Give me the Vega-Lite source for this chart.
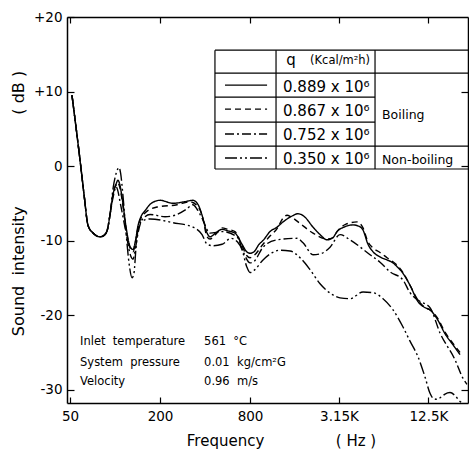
{
  "$schema": "https://vega.github.io/schema/vega-lite/v6.json",
  "width": 401,
  "height": 386,
  "autosize": {"type": "none"},
  "padding": {"left": 67, "top": 17, "right": 1, "bottom": 53},
  "background": "white",
  "config": {
    "view": {"stroke": null},
    "font": "DejaVu Sans",
    "axis": {"grid": false, "domainColor": "black", "tickColor": "black", "labelColor": "black", "titleColor": "black", "domainWidth": 1.5, "tickWidth": 1.2, "labelFont": "DejaVu Sans", "titleFont": "DejaVu Sans", "titleFontWeight": "normal"}
  },
  "datasets": {
    "curves": [
      {"s": "0.889", "f": 51.5, "db": 9.5}, {"s": "0.889", "f": 58.3, "db": 0.8}, {"s": "0.889", "f": 62, "db": -3.8}, {"s": "0.889", "f": 66, "db": -8.0}, {"s": "0.889", "f": 71.3, "db": -9.0}, {"s": "0.889", "f": 79.4, "db": -9.5}, {"s": "0.889", "f": 84.4, "db": -9.3}, {"s": "0.889", "f": 88.4, "db": -8.7}, {"s": "0.889", "f": 92.6, "db": -6.5},
      {"s": "0.889", "f": 97, "db": -3.8}, {"s": "0.889", "f": 102, "db": -2.3}, {"s": "0.889", "f": 104.7, "db": -1.9}, {"s": "0.889", "f": 107, "db": -2.3}, {"s": "0.889", "f": 111.4, "db": -4.2}, {"s": "0.889", "f": 118.5, "db": -8.2}, {"s": "0.889", "f": 126, "db": -10.8}, {"s": "0.889", "f": 132, "db": -11.2}, {"s": "0.889", "f": 137, "db": -10}, {"s": "0.889", "f": 142.5, "db": -8}, {"s": "0.889", "f": 149, "db": -6.8}, {"s": "0.889", "f": 158.7, "db": -6.0}, {"s": "0.889", "f": 175, "db": -5.0}, {"s": "0.889", "f": 200, "db": -4.6}, {"s": "0.889", "f": 244, "db": -5.0}, {"s": "0.889", "f": 290, "db": -4.8}, {"s": "0.889", "f": 332, "db": -4.6}, {"s": "0.889", "f": 360, "db": -5.2}, {"s": "0.889", "f": 382, "db": -6.6}, {"s": "0.889", "f": 413, "db": -9.0}, {"s": "0.889", "f": 432, "db": -9.5}, {"s": "0.889", "f": 470, "db": -9.0}, {"s": "0.889", "f": 520, "db": -8.5}, {"s": "0.889", "f": 570, "db": -8.7}, {"s": "0.889", "f": 635, "db": -9.0}, {"s": "0.889", "f": 707, "db": -10.5}, {"s": "0.889", "f": 760, "db": -11.5}, {"s": "0.889", "f": 800, "db": -11.7}, {"s": "0.889", "f": 851, "db": -11.5}, {"s": "0.889", "f": 920, "db": -10.5}, {"s": "0.889", "f": 977, "db": -10.0}, {"s": "0.889", "f": 1088, "db": -8.8}, {"s": "0.889", "f": 1213, "db": -8.2}, {"s": "0.889", "f": 1330, "db": -7.5}, {"s": "0.889", "f": 1500, "db": -6.8}, {"s": "0.889", "f": 1676, "db": -6.4}, {"s": "0.889", "f": 1850, "db": -6.8}, {"s": "0.889", "f": 2111, "db": -8.2}, {"s": "0.889", "f": 2352, "db": -9.2}, {"s": "0.889", "f": 2620, "db": -9.9}, {"s": "0.889", "f": 2872, "db": -9.6}, {"s": "0.889", "f": 3056, "db": -8.8}, {"s": "0.889", "f": 3400, "db": -8.2}, {"s": "0.889", "f": 3910, "db": -7.9}, {"s": "0.889", "f": 4300, "db": -8.1}, {"s": "0.889", "f": 4560, "db": -8.6}, {"s": "0.889", "f": 4925, "db": -10.5}, {"s": "0.889", "f": 5320, "db": -11.5}, {"s": "0.889", "f": 5926, "db": -12.2}, {"s": "0.889", "f": 6600, "db": -12.6}, {"s": "0.889", "f": 7241, "db": -13.0}, {"s": "0.889", "f": 7700, "db": -13.5}, {"s": "0.889", "f": 8445, "db": -14.4}, {"s": "0.889", "f": 9406, "db": -16.0}, {"s": "0.889", "f": 10640, "db": -18.2}, {"s": "0.889", "f": 11850, "db": -19.0}, {"s": "0.889", "f": 12800, "db": -19.3}, {"s": "0.889", "f": 14270, "db": -20.5}, {"s": "0.889", "f": 16127, "db": -22.5}, {"s": "0.889", "f": 18240, "db": -24.0}, {"s": "0.889", "f": 20320, "db": -25.3},

      {"s": "0.867", "f": 51.5, "db": 9.5}, {"s": "0.867", "f": 58.3, "db": 0.8}, {"s": "0.867", "f": 62, "db": -3.8}, {"s": "0.867", "f": 66, "db": -8.0}, {"s": "0.867", "f": 71.3, "db": -9.0}, {"s": "0.867", "f": 79.4, "db": -9.5}, {"s": "0.867", "f": 84.4, "db": -9.3}, {"s": "0.867", "f": 88.4, "db": -8.7}, {"s": "0.867", "f": 92.6, "db": -6.5},
      {"s": "0.867", "f": 97, "db": -3.6}, {"s": "0.867", "f": 102, "db": -2.5}, {"s": "0.867", "f": 104, "db": -2.2}, {"s": "0.867", "f": 107, "db": -2.7}, {"s": "0.867", "f": 111.4, "db": -4.5}, {"s": "0.867", "f": 118.5, "db": -8.5}, {"s": "0.867", "f": 126, "db": -11}, {"s": "0.867", "f": 132, "db": -11.5}, {"s": "0.867", "f": 137, "db": -10.2}, {"s": "0.867", "f": 142.5, "db": -8.2}, {"s": "0.867", "f": 149, "db": -7.0}, {"s": "0.867", "f": 158.7, "db": -6.3}, {"s": "0.867", "f": 191, "db": -5.5}, {"s": "0.867", "f": 260, "db": -5.2}, {"s": "0.867", "f": 317, "db": -4.8}, {"s": "0.867", "f": 354, "db": -5.3}, {"s": "0.867", "f": 382, "db": -6.6}, {"s": "0.867", "f": 413, "db": -9.5}, {"s": "0.867", "f": 432, "db": -9.8}, {"s": "0.867", "f": 470, "db": -9.2}, {"s": "0.867", "f": 520, "db": -8.3}, {"s": "0.867", "f": 570, "db": -8.5}, {"s": "0.867", "f": 635, "db": -8.8}, {"s": "0.867", "f": 707, "db": -10.7}, {"s": "0.867", "f": 760, "db": -12.0}, {"s": "0.867", "f": 800, "db": -12.3}, {"s": "0.867", "f": 851, "db": -12.0}, {"s": "0.867", "f": 977, "db": -10.5}, {"s": "0.867", "f": 1088, "db": -9.4}, {"s": "0.867", "f": 1213, "db": -8.4}, {"s": "0.867", "f": 1330, "db": -7.0}, {"s": "0.867", "f": 1414, "db": -6.6}, {"s": "0.867", "f": 1500, "db": -6.8}, {"s": "0.867", "f": 1676, "db": -7.5}, {"s": "0.867", "f": 2111, "db": -9.0}, {"s": "0.867", "f": 2620, "db": -9.8}, {"s": "0.867", "f": 2872, "db": -9.6}, {"s": "0.867", "f": 3056, "db": -8.8}, {"s": "0.867", "f": 3509, "db": -7.8}, {"s": "0.867", "f": 4159, "db": -7.5}, {"s": "0.867", "f": 4560, "db": -8.3}, {"s": "0.867", "f": 4925, "db": -10.2}, {"s": "0.867", "f": 5320, "db": -11.0}, {"s": "0.867", "f": 5926, "db": -11.6}, {"s": "0.867", "f": 6600, "db": -12.3}, {"s": "0.867", "f": 7700, "db": -13.3}, {"s": "0.867", "f": 8445, "db": -14.3}, {"s": "0.867", "f": 9406, "db": -16.0}, {"s": "0.867", "f": 10640, "db": -18.0}, {"s": "0.867", "f": 11850, "db": -19.0}, {"s": "0.867", "f": 12800, "db": -19.3}, {"s": "0.867", "f": 14270, "db": -20.3}, {"s": "0.867", "f": 16127, "db": -22.3}, {"s": "0.867", "f": 18240, "db": -23.8}, {"s": "0.867", "f": 20320, "db": -25.0},

      {"s": "0.752", "f": 51.5, "db": 9.5}, {"s": "0.752", "f": 58.3, "db": 0.8}, {"s": "0.752", "f": 62, "db": -3.8}, {"s": "0.752", "f": 66, "db": -8.0}, {"s": "0.752", "f": 71.3, "db": -9.0}, {"s": "0.752", "f": 79.4, "db": -9.5}, {"s": "0.752", "f": 84.4, "db": -9.3}, {"s": "0.752", "f": 88.4, "db": -8.7}, {"s": "0.752", "f": 92.6, "db": -6.5},
      {"s": "0.752", "f": 97, "db": -4.2}, {"s": "0.752", "f": 101.6, "db": -2.8}, {"s": "0.752", "f": 104, "db": -3.2}, {"s": "0.752", "f": 108, "db": -4.8}, {"s": "0.752", "f": 118.5, "db": -9}, {"s": "0.752", "f": 126, "db": -11.8}, {"s": "0.752", "f": 132, "db": -12.5}, {"s": "0.752", "f": 137, "db": -11}, {"s": "0.752", "f": 142.5, "db": -9}, {"s": "0.752", "f": 149, "db": -7.5}, {"s": "0.752", "f": 158.7, "db": -6.8}, {"s": "0.752", "f": 171.5, "db": -6.5}, {"s": "0.752", "f": 216, "db": -6.8}, {"s": "0.752", "f": 252, "db": -6.6}, {"s": "0.752", "f": 300, "db": -5.8}, {"s": "0.752", "f": 332, "db": -5.2}, {"s": "0.752", "f": 354, "db": -5.8}, {"s": "0.752", "f": 382, "db": -7.0}, {"s": "0.752", "f": 432, "db": -9.0}, {"s": "0.752", "f": 520, "db": -8.8}, {"s": "0.752", "f": 655, "db": -9.5}, {"s": "0.752", "f": 720, "db": -11.5}, {"s": "0.752", "f": 800, "db": -13.0}, {"s": "0.752", "f": 851, "db": -12.8}, {"s": "0.752", "f": 977, "db": -10.9}, {"s": "0.752", "f": 1213, "db": -9.9}, {"s": "0.752", "f": 1650, "db": -9.7}, {"s": "0.752", "f": 1810, "db": -10.3}, {"s": "0.752", "f": 2111, "db": -11.9}, {"s": "0.752", "f": 2352, "db": -11.8}, {"s": "0.752", "f": 2744, "db": -10.9}, {"s": "0.752", "f": 3200, "db": -9.2}, {"s": "0.752", "f": 3732, "db": -9.9}, {"s": "0.752", "f": 5080, "db": -11.9}, {"s": "0.752", "f": 5926, "db": -12.9}, {"s": "0.752", "f": 6913, "db": -14.2}, {"s": "0.752", "f": 8445, "db": -15.3}, {"s": "0.752", "f": 9406, "db": -17.0}, {"s": "0.752", "f": 10640, "db": -18.0}, {"s": "0.752", "f": 12800, "db": -19.0}, {"s": "0.752", "f": 14930, "db": -22.4}, {"s": "0.752", "f": 18815, "db": -26.0}, {"s": "0.752", "f": 21280, "db": -28.5}, {"s": "0.752", "f": 22600, "db": -29.3},

      {"s": "0.350", "f": 51.5, "db": 9.5}, {"s": "0.350", "f": 58.3, "db": 0.8}, {"s": "0.350", "f": 62, "db": -3.8}, {"s": "0.350", "f": 66, "db": -8.0}, {"s": "0.350", "f": 71.3, "db": -9.0}, {"s": "0.350", "f": 79.4, "db": -9.5}, {"s": "0.350", "f": 84.4, "db": -9.3}, {"s": "0.350", "f": 88.4, "db": -8.7}, {"s": "0.350", "f": 92.6, "db": -6.5},
      {"s": "0.350", "f": 97, "db": -3.0}, {"s": "0.350", "f": 101.6, "db": -1.0}, {"s": "0.350", "f": 106.4, "db": -0.2}, {"s": "0.350", "f": 109, "db": -1.0}, {"s": "0.350", "f": 113, "db": -4}, {"s": "0.350", "f": 118.5, "db": -9}, {"s": "0.350", "f": 124, "db": -13}, {"s": "0.350", "f": 130, "db": -15}, {"s": "0.350", "f": 134, "db": -14.3}, {"s": "0.350", "f": 138, "db": -11}, {"s": "0.350", "f": 142.5, "db": -8.5}, {"s": "0.350", "f": 149, "db": -7.5}, {"s": "0.350", "f": 171.5, "db": -7.1}, {"s": "0.350", "f": 244, "db": -7.6}, {"s": "0.350", "f": 332, "db": -8.2}, {"s": "0.350", "f": 382, "db": -9.2}, {"s": "0.350", "f": 413, "db": -10.5}, {"s": "0.350", "f": 452, "db": -10.7}, {"s": "0.350", "f": 520, "db": -10.5}, {"s": "0.350", "f": 597, "db": -9.7}, {"s": "0.350", "f": 660, "db": -10.2}, {"s": "0.350", "f": 707, "db": -11.2}, {"s": "0.350", "f": 760, "db": -13.5}, {"s": "0.350", "f": 800, "db": -14.3}, {"s": "0.350", "f": 851, "db": -14.0}, {"s": "0.350", "f": 977, "db": -12.6}, {"s": "0.350", "f": 1270, "db": -11.3}, {"s": "0.350", "f": 1482, "db": -11.4}, {"s": "0.350", "f": 1728, "db": -12.3}, {"s": "0.350", "f": 2016, "db": -13.9}, {"s": "0.350", "f": 2352, "db": -15.8}, {"s": "0.350", "f": 2872, "db": -17.3}, {"s": "0.350", "f": 3200, "db": -17.7}, {"s": "0.350", "f": 3732, "db": -17.8}, {"s": "0.350", "f": 4560, "db": -16.9}, {"s": "0.350", "f": 5320, "db": -17.0}, {"s": "0.350", "f": 6206, "db": -17.8}, {"s": "0.350", "f": 7241, "db": -19.3}, {"s": "0.350", "f": 8445, "db": -21.6}, {"s": "0.350", "f": 9406, "db": -23.5}, {"s": "0.350", "f": 10640, "db": -25.6}, {"s": "0.350", "f": 11850, "db": -28.3}, {"s": "0.350", "f": 12800, "db": -30.5}, {"s": "0.350", "f": 13500, "db": -31.2}, {"s": "0.350", "f": 14270, "db": -31.3}, {"s": "0.350", "f": 15200, "db": -31.0}, {"s": "0.350", "f": 16127, "db": -30.6}, {"s": "0.350", "f": 17415, "db": -30.4}, {"s": "0.350", "f": 18815, "db": -30.8}, {"s": "0.350", "f": 20320, "db": -31.6}, {"s": "0.350", "f": 21300, "db": -31.8}
    ],
    "tbl": [
      {"x1": 466, "x2": 22980, "y1": 15.55, "y2": 15.55},
      {"x1": 466, "x2": 22980, "y1": 12.47, "y2": 12.47},
      {"x1": 466, "x2": 5487, "y1": 9.25, "y2": 9.25},
      {"x1": 466, "x2": 5487, "y1": 5.9, "y2": 5.9},
      {"x1": 466, "x2": 22980, "y1": 2.68, "y2": 2.68},
      {"x1": 466, "x2": 22980, "y1": -0.4, "y2": -0.4},
      {"x1": 466, "x2": 466, "y1": -0.4, "y2": 15.55},
      {"x1": 1194, "x2": 1194, "y1": -0.4, "y2": 15.55},
      {"x1": 5487, "x2": 5487, "y1": -0.4, "y2": 15.55}
    ],
    "samples": [
      {"s": "0.889", "x1": 544, "x2": 1040, "y": 10.86},
      {"s": "0.867", "x1": 544, "x2": 1040, "y": 7.64},
      {"s": "0.752", "x1": 544, "x2": 1040, "y": 4.29},
      {"s": "0.350", "x1": 544, "x2": 1040, "y": 1.07}
    ],
    "qvals": [
      {"t": "0.889 x 10⁶", "f": 1330, "db": 10.6},
      {"t": "0.867 x 10⁶", "f": 1330, "db": 7.4},
      {"t": "0.752 x 10⁶", "f": 1330, "db": 4.1},
      {"t": "0.350 x 10⁶", "f": 1330, "db": 0.9}
    ],
    "qhead": [{"t": "q", "f": 1400, "db": 14.2}],
    "qunit": [{"t": "(Kcal/m²h)", "f": 2016, "db": 14.1}],
    "kind": [
      {"t": "Boiling", "f": 6110, "db": 6.9},
      {"t": "Non-boiling", "f": 6110, "db": 0.8}
    ],
    "notes": [
      {"t": "Inlet\u00a0\u00a0temperature", "f": 58.3, "db": -23.6},
      {"t": "561\u00a0\u00a0°C", "f": 394, "db": -23.6},
      {"t": "System\u00a0\u00a0pressure", "f": 58.3, "db": -26.4},
      {"t": "0.01\u00a0\u00a0kg/cm²G", "f": 394, "db": -26.4},
      {"t": "Velocity", "f": 58.3, "db": -28.95},
      {"t": "0.96\u00a0\u00a0m/s", "f": 394, "db": -28.95}
    ]
  },
  "layer": [
    {
      "data": {"name": "curves"},
      "mark": {"type": "line", "interpolate": "monotone", "color": "black", "strokeWidth": 1.4, "clip": true},
      "encoding": {
        "x": {"field": "f", "type": "quantitative", "scale": {"type": "log", "domain": [47.7, 22980], "nice": false},
          "axis": {"orient": "bottom", "values": [50, 200, 800, 3150, 12500], "labelExpr": "datum.value == 3150 ? '3.15K' : datum.value == 12500 ? '12.5K' : '' + datum.value", "tickSize": -6, "labelPadding": 12, "labelFontSize": 13.5, "labelFlush": false, "labelOverlap": false,
            "title": "Frequency\u00a0\u00a0\u00a0\u00a0\u00a0\u00a0\u00a0\u00a0\u00a0\u00a0\u00a0\u00a0\u00a0\u00a0\u00a0(\u00a0Hz\u00a0)", "titleFontSize": 15, "titleX": 214, "titleY": 37, "titleAlign": "center", "titleBaseline": "middle"}},
        "y": {"field": "db", "type": "quantitative", "scale": {"domain": [-31.8, 20], "nice": false, "zero": false},
          "axis": {"orient": "left", "values": [-30, -20, -10, 0, 10, 20], "labelExpr": "datum.value > 0 ? '+' + datum.value : '' + datum.value", "tickSize": -7, "labelPadding": 12, "labelFontSize": 13.5, "labelBaseline": "middle", "labelFlush": false, "labelOverlap": false,
            "title": "Sound\u00a0\u00a0intensity\u00a0\u00a0\u00a0\u00a0\u00a0\u00a0\u00a0\u00a0\u00a0\u00a0\u00a0\u00a0\u00a0\u00a0\u00a0\u00a0\u00a0\u00a0(\u00a0dB\u00a0)", "titleFontSize": 16, "titleX": -49, "titleY": 186, "titleAngle": -90, "titleAlign": "center", "titleBaseline": "middle"}},
        "strokeDash": {"field": "s", "type": "nominal", "legend": null, "scale": {"domain": ["0.889", "0.867", "0.752", "0.350"], "range": [[1, 0], [6, 4], [9, 3, 2, 3], [12, 3, 2, 3, 2, 3]]}},
        "detail": {"field": "s"}
      }
    },
    {
      "data": {"name": "tbl"},
      "mark": {"type": "rule", "color": "black", "strokeWidth": 1.2},
      "encoding": {
        "x": {"field": "x1", "type": "quantitative", "scale": {"type": "log", "domain": [47.7, 22980], "nice": false},
          "axis": {"orient": "top", "values": [50, 200, 800, 3150, 12500], "labels": false, "tickSize": -6, "title": null}},
        "x2": {"field": "x2"},
        "y": {"field": "y1", "type": "quantitative", "scale": {"domain": [-31.8, 20], "nice": false, "zero": false},
          "axis": {"orient": "right", "values": [-30, -20, -10, 0, 10], "labels": false, "tickSize": -7, "title": null}},
        "y2": {"field": "y2"}
      }
    },
    {
      "data": {"name": "samples"},
      "mark": {"type": "rule", "color": "black", "strokeWidth": 1.4},
      "encoding": {
        "x": {"field": "x1", "type": "quantitative", "scale": {"type": "log", "domain": [47.7, 22980], "nice": false}, "axis": null},
        "x2": {"field": "x2"},
        "y": {"field": "y", "type": "quantitative", "scale": {"domain": [-31.8, 20], "nice": false, "zero": false}, "axis": null},
        "strokeDash": {"field": "s", "type": "nominal", "legend": null, "scale": {"domain": ["0.889", "0.867", "0.752", "0.350"], "range": [[1, 0], [6, 4], [9, 3, 2, 3], [12, 3, 2, 3, 2, 3]]}}
      }
    },
    {
      "data": {"name": "qvals"},
      "mark": {"type": "text", "align": "left", "baseline": "middle", "fontSize": 15, "color": "black"},
      "encoding": {
        "x": {"field": "f", "type": "quantitative", "scale": {"type": "log", "domain": [47.7, 22980], "nice": false}, "axis": null},
        "y": {"field": "db", "type": "quantitative", "scale": {"domain": [-31.8, 20], "nice": false, "zero": false}, "axis": null},
        "text": {"field": "t"}
      }
    },
    {
      "data": {"name": "qhead"},
      "mark": {"type": "text", "align": "left", "baseline": "middle", "fontSize": 15, "color": "black"},
      "encoding": {
        "x": {"field": "f", "type": "quantitative", "scale": {"type": "log", "domain": [47.7, 22980], "nice": false}, "axis": null},
        "y": {"field": "db", "type": "quantitative", "scale": {"domain": [-31.8, 20], "nice": false, "zero": false}, "axis": null},
        "text": {"field": "t"}
      }
    },
    {
      "data": {"name": "qunit"},
      "mark": {"type": "text", "align": "left", "baseline": "middle", "fontSize": 11.5, "color": "black"},
      "encoding": {
        "x": {"field": "f", "type": "quantitative", "scale": {"type": "log", "domain": [47.7, 22980], "nice": false}, "axis": null},
        "y": {"field": "db", "type": "quantitative", "scale": {"domain": [-31.8, 20], "nice": false, "zero": false}, "axis": null},
        "text": {"field": "t"}
      }
    },
    {
      "data": {"name": "kind"},
      "mark": {"type": "text", "align": "left", "baseline": "middle", "fontSize": 12.5, "color": "black"},
      "encoding": {
        "x": {"field": "f", "type": "quantitative", "scale": {"type": "log", "domain": [47.7, 22980], "nice": false}, "axis": null},
        "y": {"field": "db", "type": "quantitative", "scale": {"domain": [-31.8, 20], "nice": false, "zero": false}, "axis": null},
        "text": {"field": "t"}
      }
    },
    {
      "data": {"name": "notes"},
      "mark": {"type": "text", "align": "left", "baseline": "middle", "fontSize": 11.5, "color": "black"},
      "encoding": {
        "x": {"field": "f", "type": "quantitative", "scale": {"type": "log", "domain": [47.7, 22980], "nice": false}, "axis": null},
        "y": {"field": "db", "type": "quantitative", "scale": {"domain": [-31.8, 20], "nice": false, "zero": false}, "axis": null},
        "text": {"field": "t"}
      }
    }
  ],
  "resolve": {"axis": {"x": "independent", "y": "independent"}}
}
